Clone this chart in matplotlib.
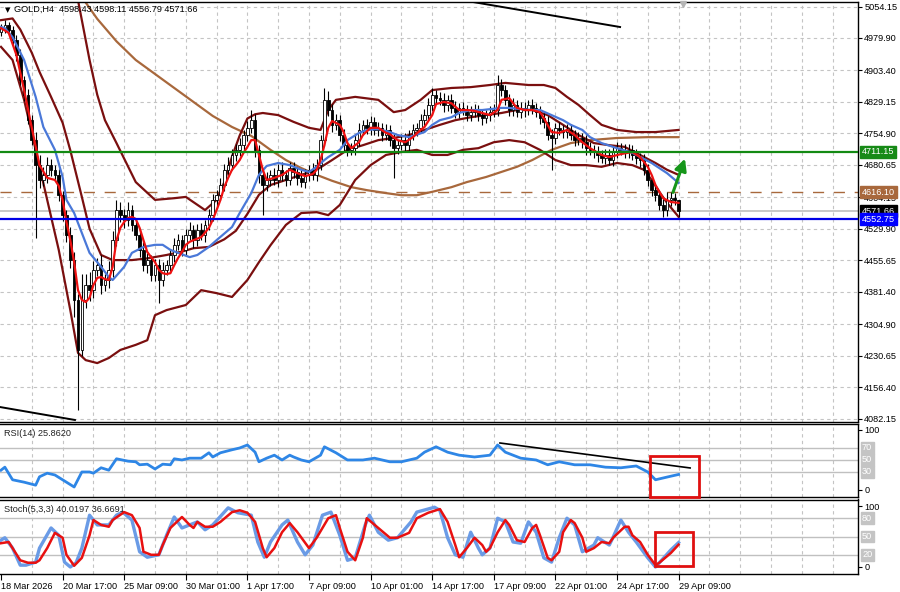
import matplotlib
matplotlib.use('Agg')
import matplotlib.pyplot as plt
from matplotlib.transforms import blended_transform_factory
import numpy as np

plt.rcParams['font.family'] = ['Liberation Sans', 'DejaVu Sans']

# ---------------- data ----------------
first_open = 4995.0
closes = [5003, 5010, 4999, 4975, 4940, 4881, 4845, 4786, 4739, 4680,
          4645, 4657, 4680, 4668, 4657, 4610, 4562, 4515, 4456, 4362,
          4244, 4362, 4397, 4385, 4433, 4444, 4397, 4409, 4433, 4503,
          4574, 4562, 4550, 4574, 4539, 4515, 4480, 4444, 4456, 4421,
          4444, 4409, 4433, 4444, 4468, 4492, 4503, 4480, 4515, 4527,
          4503, 4527, 4515, 4539, 4562, 4598, 4610, 4633, 4669, 4680,
          4704, 4716, 4727, 4751, 4768, 4786, 4716, 4657, 4633, 4645,
          4657, 4645, 4669, 4657, 4645, 4673, 4664, 4650, 4640, 4657,
          4669, 4657, 4680, 4739, 4834, 4810, 4775, 4786, 4751, 4727,
          4716, 4720, 4739, 4763, 4775, 4768, 4782, 4763, 4768, 4751,
          4763, 4739, 4720, 4727, 4739, 4727, 4751, 4763, 4768, 4786,
          4798, 4822, 4845, 4838, 4834, 4822, 4834, 4815, 4805, 4815,
          4810, 4798, 4805, 4810, 4798, 4791, 4798, 4805, 4810, 4869,
          4857, 4834, 4810, 4822, 4805, 4815, 4810, 4822, 4815, 4805,
          4791, 4782, 4751, 4744, 4768, 4763, 4758, 4763, 4751, 4739,
          4744, 4735, 4720, 4716, 4711, 4704, 4697, 4704, 4692, 4711,
          4720, 4716, 4711, 4716, 4704, 4697, 4692, 4669, 4645, 4621,
          4610, 4586, 4574, 4598, 4602, 4598.43, 4571.66]
up_wick = [10, 12, 8, 10, 12, 15, 10, 14, 12, 20,
           25, 18, 20, 15, 12, 14, 10, 12, 18, 20,
           15, 60, 25, 30, 20, 18, 25, 15, 20, 22,
           24, 18, 15, 20, 12, 15, 14, 18, 16, 12,
           15, 14, 18, 12, 15, 16, 14, 12, 15, 18,
           12, 14, 16, 12, 15, 14, 12, 16, 14, 18,
           15, 14, 18, 12, 16, 24, 14, 12, 15, 18,
           12, 16, 14, 18, 12, 15, 14, 12, 18, 14,
           12, 15, 14, 12, 28, 20, 14, 15, 12, 14,
           15, 12, 14, 16, 12, 14, 15, 12, 14, 12,
           14, 12, 15, 12, 14, 16, 12, 14, 12, 15,
           14, 16, 18, 12, 14, 15, 12, 14, 16, 12,
           14, 12, 15, 14, 12, 14, 12, 15, 14, 24,
           15, 12, 14, 16, 12, 14, 15, 12, 14, 12,
           14, 12, 15, 14, 12, 14, 12, 15, 14, 12,
           14, 12, 15, 14, 12, 14, 12, 15, 14, 12,
           14, 12, 15, 14, 12, 14, 12, 15, 14, 12,
           14, 12, 15, 18, 14, 12, 0]
dn_wick = [10, 12, 10, 14, 15, 12, 14, 10, 12, 172,
           20, 15, 18, 14, 12, 15, 14, 16, 18, 40,
           142, 15, 20, 25, 18, 14, 20, 15, 18, 16,
           14, 16, 18, 14, 15, 12, 16, 14, 18, 15,
           14, 54, 15, 12, 14, 16, 12, 15, 14, 12,
           18, 14, 12, 16, 12, 14, 15, 12, 14, 16,
           12, 14, 15, 12, 14, 12, 16, 18, 71, 15,
           14, 12, 16, 14, 15, 12, 14, 16, 12, 14,
           15, 12, 14, 12, 15, 14, 16, 12, 14, 16,
           14, 12, 15, 14, 12, 14, 16, 12, 15, 14,
           12, 15, 70, 14, 12, 15, 14, 12, 14, 12,
           14, 12, 15, 14, 12, 16, 14, 12, 15, 14,
           12, 14, 15, 12, 14, 16, 12, 14, 12, 15,
           14, 12, 15, 14, 12, 14, 16, 12, 14, 12,
           15, 14, 12, 76, 14, 12, 15, 14, 12, 14,
           12, 14, 15, 12, 14, 16, 12, 14, 12, 15,
           14, 12, 15, 14, 12, 14, 16, 12, 14, 15,
           14, 12, 17, 14, 15, 12, 15]

red_x = [0, 2, 4, 6, 8, 10, 12, 14, 15, 16, 17, 18, 19, 20, 21, 22, 23, 24, 25, 26, 27, 28, 29, 30,
         31, 32, 33, 34, 35, 36, 37, 38, 39, 40, 41, 42, 43, 44, 45, 46, 47, 48, 49, 50, 52, 54, 55,
         56, 57, 58, 59, 60, 61, 62, 63, 64, 65, 66, 67, 68, 69, 71, 73, 75, 77, 79, 81, 82, 83, 84,
         85, 86, 88, 89, 90, 91, 93, 94, 96, 98, 100, 101, 103, 105, 107, 109, 110, 112, 113, 115,
         117, 119, 121, 123, 125, 127, 129, 130, 132, 134, 136, 138, 140, 141, 143, 145, 147, 149,
         151, 153, 156, 158, 161, 164, 166, 168, 169, 170, 171, 172, 174, 176]
red_y = [5003, 4992, 4940, 4857, 4768, 4680, 4650, 4645, 4631, 4598, 4546, 4503, 4451, 4385, 4362,
         4357, 4367, 4397, 4414, 4416, 4411, 4409, 4440, 4503, 4532, 4546, 4555, 4558, 4553, 4532,
         4503, 4475, 4463, 4451, 4433, 4425, 4423, 4425, 4444, 4461, 4475, 4492, 4499, 4503, 4510,
         4532, 4551, 4574, 4598, 4628, 4650, 4669, 4680, 4692, 4709, 4723, 4739, 4739, 4704, 4669,
         4645, 4650, 4657, 4669, 4661, 4654, 4659, 4669, 4692, 4727, 4768, 4784, 4775, 4758, 4732,
         4720, 4734, 4751, 4768, 4768, 4756, 4753, 4739, 4734, 4746, 4763, 4770, 4798, 4824, 4829,
         4826, 4810, 4810, 4808, 4803, 4798, 4810, 4834, 4838, 4815, 4810, 4810, 4805, 4791, 4758,
         4756, 4763, 4751, 4734, 4720, 4704, 4699, 4706, 4711, 4699, 4676, 4657, 4633, 4617, 4602,
         4593, 4591]

blue_x = [0, 1, 3, 6, 9, 11, 14, 16, 17, 19, 21, 23, 26, 28, 29, 32, 34, 37, 40, 42, 44, 46, 49,
          51, 54, 56, 60, 62, 65, 67, 69, 72, 75, 78, 80, 82, 84, 85, 88, 90, 93, 95, 98, 101, 103,
          106, 107, 110, 112, 114, 117, 119, 122, 125, 127, 130, 132, 135, 138, 140, 143, 146, 148,
          151, 153, 156, 160, 164, 169, 173, 176]
blue_y = [5006, 5003, 4982, 4928, 4841, 4770, 4716, 4652, 4598, 4567, 4520, 4473, 4440, 4416, 4409,
          4440, 4473, 4487, 4492, 4492, 4480, 4473, 4463, 4468, 4487, 4503, 4534, 4567, 4614, 4657,
          4678, 4685, 4680, 4669, 4664, 4676, 4692, 4699, 4716, 4739, 4756, 4763, 4765, 4758, 4751,
          4746, 4749, 4758, 4775, 4786, 4793, 4803, 4810, 4810, 4812, 4815, 4815, 4812, 4810, 4810,
          4798, 4786, 4775, 4763, 4746, 4732, 4720, 4709, 4685, 4661, 4638]

# Bollinger bands (upper / middle / lower)
bbu_x = [18, 20, 23, 25, 27, 30, 35, 40, 45, 48, 53, 56, 58, 60, 62, 64, 66,
         68, 72, 76, 80, 83, 85, 87, 92, 98, 102, 105, 109, 112, 117, 122, 127, 131, 137, 141, 144,
         147, 150, 153, 156, 160, 165, 170, 176]
bbu_y = [5130, 5069, 4928, 4846, 4786, 4732, 4640, 4598, 4602,
         4605, 4574, 4598, 4640, 4700, 4750, 4790, 4800, 4803, 4798, 4782, 4768, 4763, 4810, 4834,
         4841, 4834, 4805, 4810, 4834, 4857, 4862, 4864, 4869, 4874, 4869, 4869, 4862, 4841, 4822,
         4798, 4775, 4763, 4758, 4758, 4763]
bbm_x = [0, 3, 5, 8, 10, 13, 16, 18, 21, 23, 26, 29, 34, 38, 43, 47, 50, 54, 58, 61, 64, 67, 70,
         74, 78, 82, 86, 90, 94, 98, 102, 106, 110, 114, 118, 122, 126, 130, 134, 138, 142, 146,
         150, 154, 158, 162, 166, 170, 173, 176]
bbm_y = [5022, 5026, 5000, 4945, 4900, 4841, 4780, 4715, 4605, 4530, 4468, 4456, 4456, 4460, 4468,
         4476, 4484, 4487, 4505, 4525, 4565, 4610, 4633, 4645, 4657, 4669, 4692, 4716, 4727, 4739,
         4744, 4751, 4763, 4775, 4786, 4793, 4798, 4803, 4810, 4810, 4798, 4775, 4751, 4732, 4727,
         4723, 4704, 4685, 4669, 4657]
bbl_x = [0, 3, 6, 9, 12, 15, 18, 20, 22, 25, 28, 31, 35, 38, 40, 43, 48, 52, 56, 60, 64, 67, 70,
         74, 78, 82, 85, 88, 92, 96, 100, 104, 108, 112, 116, 120, 124, 128, 132, 136, 140, 144,
         148, 152, 156, 160, 164, 167, 169, 171, 173, 176]
bbl_y = [4959, 4928, 4834, 4716, 4598, 4480, 4338, 4237, 4220, 4213, 4225, 4244, 4256, 4267, 4326,
         4338, 4350, 4385, 4378, 4369, 4409, 4451, 4491, 4539, 4567, 4569, 4562, 4586, 4645, 4680,
         4704, 4711, 4716, 4704, 4704, 4716, 4720, 4734, 4739, 4734, 4716, 4692, 4680, 4680, 4676,
         4685, 4680, 4669, 4645, 4617, 4591, 4558]

brown_x = [21.5, 25, 30, 35, 40, 45, 50, 55, 60, 65, 70, 74, 78, 82, 86, 91, 95, 100, 104, 108, 112,
           117, 121, 126, 130, 134, 138, 143, 148, 153, 160, 168, 176]
brown_y = [5070, 5025, 4972, 4928, 4895, 4862, 4829, 4796, 4770, 4749, 4716, 4692, 4673, 4657, 4643,
           4628, 4621, 4614, 4609, 4609, 4617, 4628, 4640, 4652, 4664, 4676, 4692, 4716, 4732, 4739,
           4744, 4746, 4746]

rsi_x = [0, 1, 3, 6, 9, 10, 12, 14, 16, 19, 21, 23, 24, 26, 28, 30, 33, 35, 36, 38, 40, 42, 44, 45,
         47, 49, 52, 54, 55, 57, 60, 62, 64, 66, 67, 69, 71, 73, 75, 76, 78, 80, 83, 84, 87, 90, 94,
         97, 101, 104, 108, 110, 113, 116, 119, 123, 127, 129, 131, 135, 139, 142, 145, 149, 153,
         157, 161, 165, 168, 170, 172, 174, 176]
rsi_y = [33, 38, 17, 13, 8, 22, 28, 25, 17, 5, 30, 30, 28, 37, 33, 52, 48, 47, 42, 43, 35, 43, 42,
         52, 50, 53, 53, 62, 55, 62, 67, 70, 75, 63, 47, 53, 58, 50, 58, 55, 50, 47, 58, 72, 62, 50,
         50, 53, 47, 47, 53, 63, 72, 63, 58, 55, 58, 75, 63, 53, 50, 42, 47, 42, 42, 38, 37, 40, 30,
         17, 20, 23, 25.86]

stk_x = [0, 1, 3, 5, 6.5, 9, 10, 13, 15, 16.5, 18, 19.5, 21, 23, 25, 28, 30, 31.6, 34, 36, 38, 41,
         43, 45, 47, 49, 51, 53, 55, 59, 61.5, 65, 66.7, 68.4, 70, 73, 74.5, 77, 79, 81, 83.5, 85.7,
         88, 90, 92, 94.6, 95.7, 98, 100.6, 103, 106.5, 108, 112.6, 114, 116, 118, 120, 122, 124,
         125, 127, 129, 131, 133, 135, 137, 139, 141, 143, 145, 147, 149, 151, 154, 155, 158, 159,
         161, 163, 165, 168, 170, 171, 174, 176]
stk_y = [44, 48, 31, 3, 3, 8, 31, 64, 52, 8, 0, 7, 31, 85, 69, 69, 85, 90, 77, 25, 16, 20, 52, 82,
         64, 69, 74, 61, 69, 97, 89, 85, 41, 16, 41, 69, 77, 41, 20, 36, 85, 90, 52, 11, 15, 69, 85,
         57, 44, 48, 74, 90, 98, 93, 48, 20, 16, 57, 31, 20, 31, 80, 74, 41, 39, 74, 57, 15, 8, 48,
         80, 69, 25, 36, 48, 36, 49, 77, 57, 41, 15, 0, 7, 28, 40.02]
std_x = [0, 2, 3, 5, 7, 9, 10, 12, 14, 16, 17, 19, 21, 23, 24, 26, 28, 29, 32, 34, 36, 37, 39, 41,
         42, 44, 47, 49, 50, 51, 53, 55, 57, 60, 62, 64, 66, 68, 69, 71, 73, 75, 77, 80, 82, 85, 87,
         88, 90, 92, 94, 95, 98, 101, 103, 106, 108, 111, 114, 116, 118, 119, 121, 123, 125, 126,
         127, 129, 131, 132, 134, 136, 138, 139, 140, 142, 143, 145, 146, 148, 149, 151, 152, 154,
         156, 158, 159, 162, 163, 164, 166, 168, 170, 171, 174, 176]
std_y = [39, 41, 31, 11, 7, 7, 11, 31, 56, 48, 20, 2, 15, 52, 77, 69, 66, 77, 90, 85, 64, 25, 20,
         20, 36, 64, 82, 69, 64, 74, 66, 66, 74, 90, 93, 89, 74, 31, 16, 31, 57, 72, 57, 31, 48, 80,
         85, 64, 25, 11, 48, 80, 64, 48, 48, 56, 80, 89, 95, 74, 36, 16, 31, 48, 36, 25, 31, 57, 77,
         69, 44, 41, 64, 69, 52, 15, 11, 25, 57, 77, 72, 48, 25, 31, 41, 39, 48, 66, 66, 52, 41, 20,
         3, 7, 23, 36.67]

price_ticks = [5054.15, 4979.90, 4903.40, 4829.15, 4754.90, 4680.65, 4604.15, 4529.90,
               4455.65, 4381.40, 4304.90, 4230.65, 4156.40, 4082.15]
time_labels = ['18 Mar 2026', '20 Mar 17:00', '25 Mar 09:00', '30 Mar 01:00', '1 Apr 17:00',
               '7 Apr 09:00', '10 Apr 01:00', '14 Apr 17:00', '17 Apr 09:00', '22 Apr 01:00',
               '24 Apr 17:00', '29 Apr 09:00']
time_label_bars = [0, 16, 32, 48, 64, 80, 96, 112, 128, 144, 160, 176]
level_green = 4711.15
level_brown = 4616.10
level_blue = 4552.75
last_price = 4571.66
rsi_levels = [70, 50, 30]
stoch_levels = [80, 50, 20]
ohlc_title = 'GOLD,H4  4598.43 4598.11 4556.79 4571.66'
rsi_title = 'RSI(14) 25.8620'
stoch_title = 'Stoch(5,3,3) 40.0197 36.6691'

# ---------------- figure ----------------
W, H = 900, 592
fig = plt.figure(figsize=(9, 5.92), dpi=100)
fig.patch.set_facecolor('white')

def fx(px):
    return px / W

def fy(py):
    return 1 - py / H

axL, axR = 0, 858
ax = fig.add_axes([fx(axL), fy(421.5), fx(axR - axL), fy(1.5) - fy(421.5)])
ax_rsi = fig.add_axes([fx(axL), fy(497), fx(axR - axL), fy(423.5) - fy(497)])
ax_st = fig.add_axes([fx(axL), fy(574), fx(axR - axL), fy(499.5) - fy(574)])

xmin, xmax = -0.26, 222.6
FS = 6.6
GRID = '#c4c4c4'

for a in (ax, ax_rsi, ax_st):
    a.set_xlim(xmin, xmax)
    a.set_facecolor('white')
    for s in ('top', 'right', 'bottom'):
        a.spines[s].set_color('black')
        a.spines[s].set_linewidth(1.0)
    a.spines['left'].set_visible(False)
    a.yaxis.tick_right()
    a.tick_params(axis='y', which='both', length=3, width=0.8, pad=1.5,
                  labelsize=FS, colors='black')
    for gx in range(8, 224, 8):
        a.axvline(gx, color=GRID, lw=0.8, ls=(0, (3, 3)), zorder=0)

ax.set_ylim(4075.2, 5066.0)
ax.set_yticks(price_ticks)
ax.set_yticklabels(['%.2f' % v for v in price_ticks])
for v in price_ticks:
    ax.axhline(v, color=GRID, lw=0.8, ls=(0, (3, 3)), zorder=0)
ax.set_xticks([])
ax_rsi.set_xticks([])

opens = [first_open] + closes[:-1]
xs = np.arange(len(closes))
for i in range(len(closes)):
    o, c = opens[i], closes[i]
    hi = max(o, c) + up_wick[i]
    lo = min(o, c) - dn_wick[i]
    ax.vlines(xs[i], lo, hi, color='black', lw=0.8, zorder=3)
    bot, top = min(o, c), max(o, c)
    h = max(top - bot, 0.8)
    ax.bar(xs[i], h, bottom=bot, width=0.7, color='white' if c >= o else 'black',
           edgecolor='black', linewidth=0.6, zorder=4)

LW = 1.6
ax.plot(brown_x, brown_y, color='#a8683c', lw=LW, zorder=2)
for bx, by in ((bbu_x, bbu_y), (bbm_x, bbm_y), (bbl_x, bbl_y)):
    ax.plot(bx, by, color='#7a0f0f', lw=LW, zorder=2)
ax.plot(blue_x, blue_y, color='#4a78d8', lw=LW, zorder=5)
ax.plot(red_x, red_y, color='#ee1111', lw=LW, zorder=6)

ax.axhline(last_price, color='#c8c8c8', lw=1.4, zorder=1)
ax.axhline(level_green, color='#138a13', lw=1.6, zorder=7)
ax.axhline(level_brown, color='#a8683c', lw=1.0, ls=(0, (8, 7)), zorder=1)
ax.axhline(level_blue, color='#0000e6', lw=1.6, zorder=7)

ax.plot([122.6, 160.8], [5064.8, 5005.8], color='black', lw=1.4, zorder=7)
ax.plot([-0.3, 19.2], [4109.4, 4078.8], color='black', lw=1.4, zorder=7)

ax.annotate('', xy=(177.9, 4701.5), xytext=(174.3, 4609.5),
            arrowprops=dict(arrowstyle='-|>,head_width=0.35,head_length=0.7',
                            color='#16961a', lw=2.2), zorder=8)

ax.plot([177.1], [5060.5], marker='v', ms=5, color='#b4b4b4', zorder=9, clip_on=False)

tr = blended_transform_factory(ax.transAxes, ax.transData)
for val, col in ((level_green, '#178a17'), (level_brown, '#a8683c'),
                 (last_price, 'black'), (level_blue, '#0000ff')):
    ax.text(1.0 + 4 / 858, val, '%.2f' % val, transform=tr, fontsize=FS, color='white',
            ha='left', va='center', zorder=20, clip_on=False,
            bbox=dict(boxstyle='square,pad=0.18', fc=col, ec=col))

ax.text(5 / 858, 1 - 5.5 / 420, u'\u25bc', transform=ax.transAxes, fontsize=5, ha='left',
        va='top', color='black', family=['DejaVu Sans'], zorder=20)
ax.text(14 / 858, 1 - 3 / 420, ohlc_title, transform=ax.transAxes, fontsize=FS,
        ha='left', va='top', color='black', zorder=20)

ax_rsi.set_ylim(-11.7, 110.8)
ax_rsi.set_yticks([100, 0])
ax_rsi.set_yticklabels(['100', '0'])
for lv in rsi_levels:
    ax_rsi.axhline(lv, color='#c0c0c0', lw=1.0, zorder=1)
    ax_rsi.text(1.0 + 4 / 858, lv, str(lv), transform=blended_transform_factory(
        ax_rsi.transAxes, ax_rsi.transData), fontsize=FS, color='white', ha='left',
        va='center', clip_on=False,
        bbox=dict(boxstyle='square,pad=0.15', fc='#c4c4c4', ec='#c4c4c4'))
ax_rsi.plot(rsi_x, rsi_y, color='#2e86e6', lw=2.0, zorder=3)
ax_rsi.plot([129.6, 179.0], [78.3, 36.7], color='black', lw=1.2, zorder=4)
ax_rsi.add_patch(plt.Rectangle((168.6, -11.0), 12.7, 67.7, fill=False, ec='#e01010',
                               lw=2.0, zorder=6, clip_on=False))
ax_rsi.text(4 / 858, 1 - 5 / 73.5, rsi_title, transform=ax_rsi.transAxes, fontsize=FS,
            ha='left', va='top', color='#222222')

ax_st.set_ylim(-11.5, 110.7)
ax_st.set_yticks([100, 0])
ax_st.set_yticklabels(['100', '0'])
for lv in stoch_levels:
    ax_st.axhline(lv, color='#c0c0c0', lw=1.0, zorder=1)
    ax_st.text(1.0 + 4 / 858, lv, str(lv), transform=blended_transform_factory(
        ax_st.transAxes, ax_st.transData), fontsize=FS, color='white', ha='left',
        va='center', clip_on=False,
        bbox=dict(boxstyle='square,pad=0.15', fc='#c4c4c4', ec='#c4c4c4'))
ax_st.plot(stk_x, stk_y, color='#6a9be6', lw=2.4, zorder=3)
ax_st.plot(std_x, std_y, color='#e81010', lw=1.8, zorder=4)
ax_st.add_patch(plt.Rectangle((169.9, 1.6), 9.8, 55.8, fill=False, ec='#e01010',
                              lw=2.0, zorder=6))
ax_st.text(4 / 858, 1 - 5 / 74.5, stoch_title, transform=ax_st.transAxes, fontsize=FS,
           ha='left', va='top', color='#222222')

ax_st.set_xticks(time_label_bars)
ax_st.set_xticklabels(time_labels, ha='left')
ax_st.tick_params(axis='x', length=4, width=0.8, pad=2, labelsize=FS, direction='out')

fig.savefig('out.png', dpi=100, facecolor='white')
